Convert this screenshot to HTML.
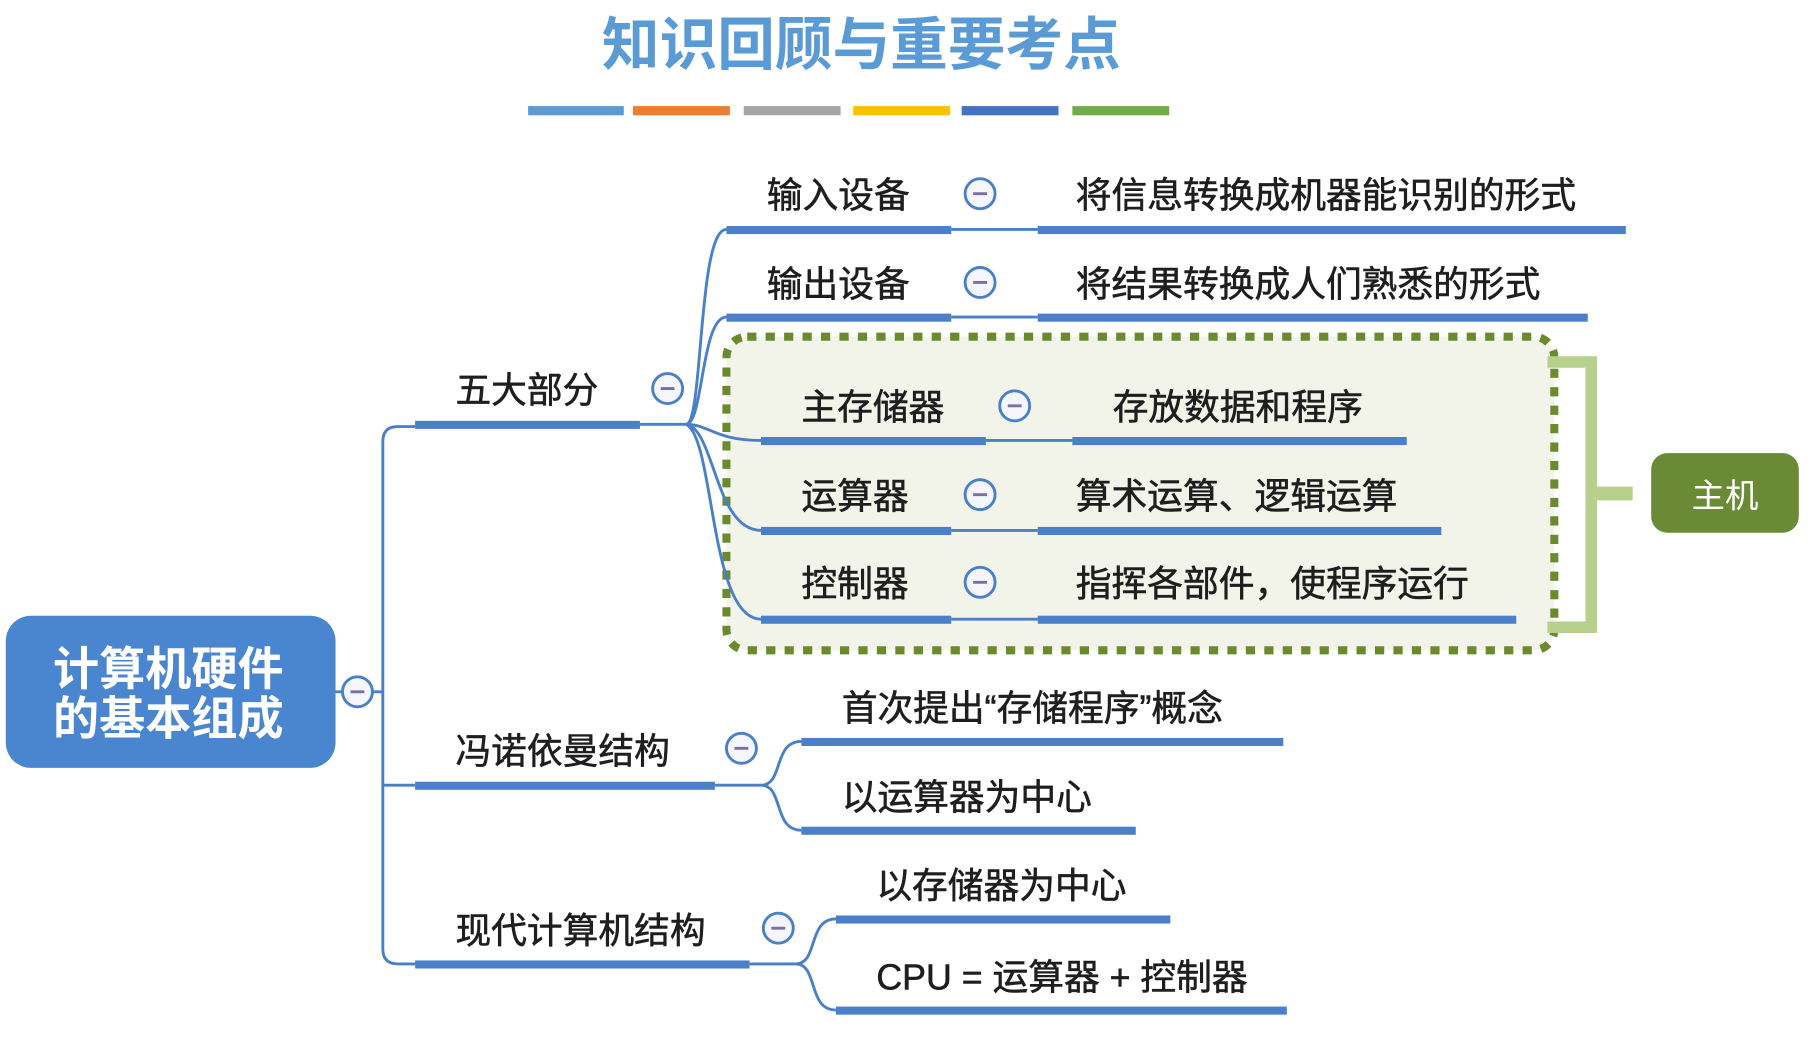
<!DOCTYPE html>
<html><head><meta charset="utf-8"><style>
html,body{margin:0;padding:0;background:#fff;width:1808px;height:1055px;overflow:hidden}
svg{display:block}
text{font-family:"Liberation Sans","Noto Sans CJK SC",sans-serif;fill:#1e1e1e}
</style></head><body>
<svg width="1808" height="1055" viewBox="0 0 1568 915" preserveAspectRatio="none" xmlns="http://www.w3.org/2000/svg">
<text x="747" y="56" font-size="50" text-anchor="middle" style="fill:#5b9bd5" font-weight="bold">知识回顾与重要考点</text>
<g>
<rect x="458" y="92" width="83" height="8" fill="#5b9bd5"/>
<rect x="549" y="92" width="84" height="8" fill="#ed7d31"/>
<rect x="645" y="92" width="84" height="8" fill="#a5a5a5"/>
<rect x="740" y="92" width="84" height="8" fill="#ffc000"/>
<rect x="834" y="92" width="84" height="8" fill="#4472c4"/>
<rect x="930" y="92" width="84" height="8" fill="#70ad47"/>
</g>
<rect x="630" y="292" width="718" height="272" rx="18" fill="#f2f4ea" stroke="#6b8a2e" stroke-width="7" stroke-dasharray="8,8"/>
<path d="M1342 314 H1380 V544 H1342" fill="none" stroke="#b7d18d" stroke-width="10"/>
<rect x="1380" y="422" width="36" height="12" fill="#b7d18d"/>
<rect x="1432" y="393" width="128" height="69" rx="14" fill="#6a8a35"/>
<text x="1496" y="440" font-size="29" text-anchor="middle" style="fill:#fff">主机</text>
<rect x="5" y="534" width="286" height="132" rx="22" fill="#4a86d0"/>
<text x="146" y="594" font-size="40" font-weight="bold" text-anchor="middle" style="fill:#fff">计算机硬件</text>
<text x="146" y="637" font-size="40" font-weight="bold" text-anchor="middle" style="fill:#fff">的基本组成</text>
<g fill="none" stroke="#4a7fc9" stroke-width="2.5">
<path d="M291 600 H332"/>
<path d="M360 370 H345 Q332 370 332 383 V823 Q332 836 345 836 H360"/>
<path d="M332 681 H360"/>
<path d="M555 368 H595"/>
<path d="M595 368 C610 368 605 199 630 199"/>
<path d="M595 368 C610 368 608 275 630 275"/>
<path d="M595 368 C615 368 620 382 660 382"/>
<path d="M595 368 C620 372 620 460 660 460"/>
<path d="M595 368 C620 380 615 537 660 537"/>
<path d="M825 199 H900 M825 275 H900 M855 382 H930 M825 460 H900 M825 537 H900"/>
<path d="M620 681 H660 C680 681 670 643 695 643 M660 681 C680 681 670 720 695 720"/>
<path d="M650 836 H690 C710 836 700 797 725 797 M690 836 C710 836 700 876 725 876"/>
</g>
<g fill="#4a7fc9">
<rect x="360" y="365" width="195" height="7"/>
<rect x="360" y="678" width="260" height="7"/>
<rect x="360" y="833" width="290" height="7"/>
<rect x="630" y="196" width="195" height="7"/>
<rect x="630" y="272" width="195" height="7"/>
<rect x="660" y="379" width="195" height="7"/>
<rect x="660" y="457" width="165" height="7"/>
<rect x="660" y="534" width="165" height="7"/>
<rect x="900" y="196" width="510" height="7"/>
<rect x="900" y="272" width="477" height="7"/>
<rect x="930" y="379" width="290" height="7"/>
<rect x="900" y="457" width="350" height="7"/>
<rect x="900" y="534" width="415" height="7"/>
<rect x="695" y="640" width="418" height="7"/>
<rect x="695" y="717" width="290" height="7"/>
<rect x="725" y="794" width="290" height="7"/>
<rect x="725" y="873" width="391" height="7"/>
</g>
<g fill="#f4f6fb" stroke="#4a7fc9" stroke-width="2.5">
<circle cx="310" cy="600" r="13"/><circle cx="579" cy="337" r="13"/>
<circle cx="850" cy="168" r="13"/><circle cx="850" cy="245" r="13"/>
<circle cx="880" cy="352" r="13"/><circle cx="850" cy="429" r="13"/>
<circle cx="850" cy="505" r="13"/><circle cx="643" cy="649" r="13"/>
<circle cx="675" cy="805" r="13"/>
</g>
<g stroke="#7a6fa0" stroke-width="2.5">
<path d="M304 600h12M573 337h12M844 168h12M844 245h12M874 352h12M844 429h12M844 505h12M637 649h12M669 805h12"/>
</g>
<g font-size="31" style="stroke:#1e1e1e;stroke-width:0.5">
<text x="395" y="349">五大部分</text>
<text x="665" y="180">输入设备</text>
<text x="665" y="257">输出设备</text>
<text x="695" y="364">主存储器</text>
<text x="695" y="441">运算器</text>
<text x="695" y="517">控制器</text>
<text x="933" y="180">将信息转换成机器能识别的形式</text>
<text x="933" y="257">将结果转换成人们熟悉的形式</text>
<text x="965" y="364">存放数据和程序</text>
<text x="933" y="441">算术运算、逻辑运算</text>
<text x="933" y="517">指挥各部件，使程序运行</text>
<text x="395" y="662">冯诺依曼结构</text>
<text x="730" y="625">首次提出“存储程序”概念</text>
<text x="730" y="702">以运算器为中心</text>
<text x="395" y="818">现代计算机结构</text>
<text x="760" y="779">以存储器为中心</text>
<text x="760" y="858">CPU = 运算器 + 控制器</text>
</g>
</svg>
</body></html>
